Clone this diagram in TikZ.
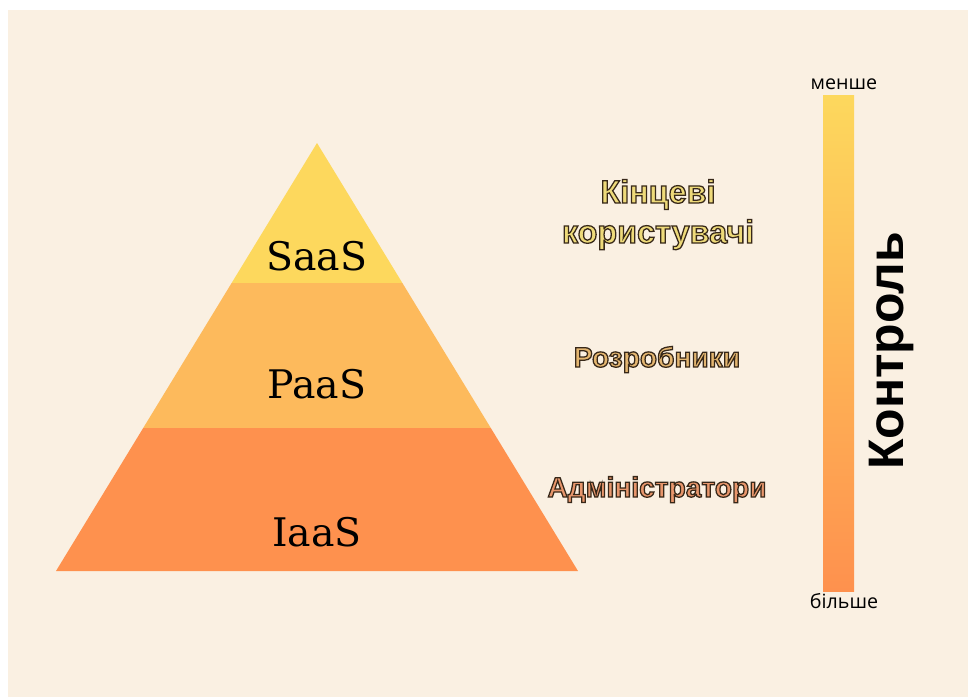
\documentclass[tikz,border=0pt]{standalone}
\usepackage{fontspec}
\setmainfont{Liberation Sans}
\newfontfamily\layerfont{DejaVu Serif}
\newfontfamily\tickfont{Open Sans}
\usetikzlibrary{calc}

\definecolor{bgcol}{HTML}{FAF0E2}
\definecolor{saascol}{HTML}{FDD85D}
\definecolor{paascol}{HTML}{FDBA5C}
\definecolor{iaascol}{HTML}{FE914E}
\definecolor{kfill}{HTML}{EEDA7A}
\definecolor{rfill}{HTML}{E4B670}
\definecolor{afill}{HTML}{E8966C}

% fill the letters and stroke their outline in dark brown
\newcommand\outlined[1]{%
  \special{pdf:literal direct 2 Tr 0.9 w 0.216 0.157 0.098 RG}#1%
  \special{pdf:literal direct 0 Tr}}

\tikzset{
  layer/.style={font=\layerfont\fontsize{28}{30}\selectfont},
  role/.style={anchor=base, font=\bfseries\fontsize{20}{24}\selectfont},
  tick/.style={anchor=base, font=\tickfont\fontsize{14}{17}\selectfont},
}

\begin{document}
\begin{tikzpicture}[x=0.025cm,y=-0.025cm]
  \useasboundingbox (0,0) rectangle (968,697);
  \fill[white] (0,0) rectangle (968,697);
  \fill[bgcol] (8,10) rectangle (968,697);

  % pyramid
  \coordinate (apex) at (317,143);
  \coordinate (bl) at (56,571);
  \coordinate (br) at (578,571);
  \coordinate (sl) at ($(apex)!0.3271!(bl)$);
  \coordinate (sr) at ($(apex)!0.3271!(br)$);
  \coordinate (pl) at ($(apex)!0.6659!(bl)$);
  \coordinate (pr) at ($(apex)!0.6659!(br)$);
  \fill[saascol] (apex) -- (sl) -- (sr) -- cycle;
  \fill[paascol] (sl) -- (pl) -- (pr) -- (sr) -- cycle;
  \fill[iaascol] (pl) -- (bl) -- (br) -- (pr) -- cycle;

  \node[layer] (saas) at (317,256) {SaaS};
  \node[layer] (paas) at (317,384) {PaaS};
  \node[layer] (iaas) at (317,532) {IaaS};

  % who uses it
  \node[role, text=kfill, font=\bfseries\fontsize{23}{26}\selectfont] (users1) at (658,203) {\outlined{Кінцеві}};
  \node[role, text=kfill, font=\bfseries\fontsize{23}{26}\selectfont] (users2) at (658,243) {\outlined{користувачі}};
  \node[role, text=rfill] (devs) at (657,367) {\outlined{Розробники}};
  \node[role, text=afill] (admins) at (657,497) {\outlined{Адміністратори}};

  % control scale
  \shade[top color=saascol, bottom color=iaascol] (823,95) rectangle (854,591);
  \node[tick] (less) at (844,89) {менше};
  \node[tick] (more) at (844,608) {більше};
  \node[anchor=base, rotate=90, font=\bfseries\fontsize{35.5}{40}\selectfont] (control) at (903,351) {Контроль};
\end{tikzpicture}
\end{document}
